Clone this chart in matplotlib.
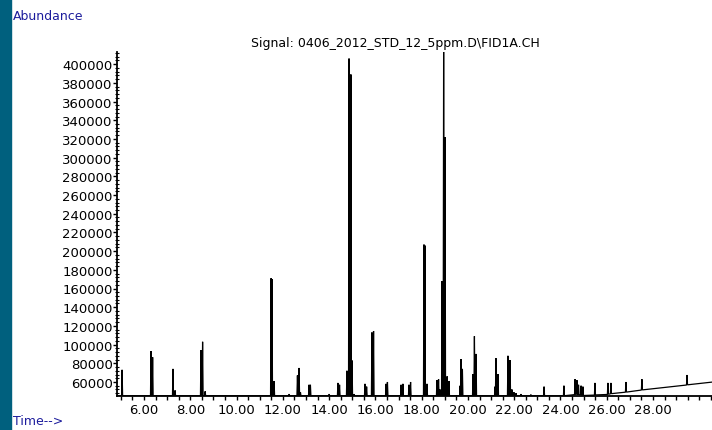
import numpy as np
import matplotlib
matplotlib.use("Agg")
import matplotlib.pyplot as plt
from matplotlib.patches import Rectangle
from matplotlib.ticker import FixedLocator, MultipleLocator, FuncFormatter

# FID trace: retention time (min) and apex abundance of each peak
peak_times = [5.05, 6.30, 6.37, 7.25, 7.34, 8.46, 8.53, 8.64,
              11.49, 11.53, 11.62, 12.27, 12.63, 12.70, 12.76,
              13.13, 13.19, 14.00, 14.38, 14.45, 14.77, 14.86, 14.94,
              14.99, 15.08, 15.55, 15.62, 15.85, 15.92, 16.46, 16.52,
              17.11, 17.19, 17.45, 17.52, 18.10, 18.14, 18.23,
              18.66, 18.73, 18.79, 18.86, 18.88, 18.95, 19.01, 19.10,
              19.18, 19.66, 19.70, 19.76, 20.22, 20.28, 20.35,
              21.17, 21.21, 21.30, 21.73, 21.82, 21.90, 21.99, 22.08,
              22.29, 22.72, 23.29, 24.15, 24.63, 24.71, 24.78, 24.89,
              24.97, 25.49, 26.05, 26.18, 26.83, 27.52, 29.47]
peak_heights = [73000, 93000, 86500, 74000, 51000, 94000, 103000, 50000,
                171000, 170000, 61000, 47000, 67000, 75000, 49000,
                57000, 57000, 47000, 59000, 57000, 72000, 406000, 389000,
                83000, 47000, 58000, 55000, 113000, 114500, 58000, 60000,
                57000, 58000, 57000, 60000, 207000, 206000, 58000,
                62000, 63000, 52000, 49000, 168000, 425000, 322000, 66000,
                61000, 56000, 84500, 74000, 68500, 109000, 90000,
                55000, 85500, 68500, 88000, 83500, 52000, 49000, 48000,
                47000, 46500, 55000, 56000, 63000, 62000, 57000, 56000,
                55000, 59000, 59000, 59000, 60000, 63000, 67500]

# baseline drift
base_times = [4.8, 24.4, 24.7, 25.0, 25.3, 25.6, 26.0, 26.3, 27.0,
              27.8, 28.5, 29.3, 30.0, 30.6]
base_values = [45300, 45300, 47000, 45500, 45300, 46500, 46500, 48000,
               49500, 52500, 53500, 56000, 59500, 60000]

title = "Signal: 0406_2012_STD_12_5ppm.D\\FID1A.CH"
xtick_values = [6, 8, 10, 12, 14, 16, 18, 20, 22, 24, 26, 28]

# build the polyline: baseline, then up to each apex and back down
half_width = 0.022
t_pts = [base_times[0]]
for t in peak_times:
    t_pts += [t - half_width, t, t + half_width]
t_pts.append(base_times[-1])
t_pts = np.array(t_pts)
v_pts = np.interp(t_pts, base_times, base_values)
v_pts[2::3][:len(peak_heights)] = peak_heights

fig = plt.figure(figsize=(7.12, 4.31), dpi=100)
fig.patches.append(Rectangle((0, 0), 11 / 712, 1, transform=fig.transFigure,
                             color="#00607e", zorder=0))

ax = fig.add_axes([117 / 712, 34 / 431, 595 / 712, 344 / 431])
ax.plot(t_pts, v_pts, color="black", lw=0.9, solid_joinstyle="miter")
ax.set_xlim(4.83, 30.55)
ax.set_ylim(45000, 413000)

for side in ("top", "right"):
    ax.spines[side].set_visible(False)
for side in ("left", "bottom"):
    ax.spines[side].set_linewidth(1.3)

ax.xaxis.set_major_locator(FixedLocator(xtick_values))
ax.xaxis.set_minor_locator(MultipleLocator(0.5))
ax.xaxis.set_major_formatter(FuncFormatter(lambda v, p: f"{v:.2f}"))
ax.yaxis.set_major_locator(FixedLocator(range(60000, 400001, 20000)))
ax.yaxis.set_minor_locator(MultipleLocator(4000))
ax.yaxis.set_major_formatter(FuncFormatter(lambda v, p: f"{int(v)}"))

ax.tick_params(axis="x", which="both", direction="out", length=3,
               width=1, pad=2, labelsize=9.5)
ax.tick_params(axis="y", which="major", direction="out", length=3,
               width=1, pad=0, labelsize=9.5)
ax.tick_params(axis="y", which="minor", direction="inout", length=3,
               width=0.8)

fig.text(395 / 712, 1 - 44 / 431, title, ha="center", va="center",
         fontsize=9)
fig.text(13 / 712, 1 - 17 / 431, "Abundance", ha="left", va="center",
         fontsize=9, color="#1c1c9c")
fig.text(13 / 712, 1 - 422 / 431, "Time-->", ha="left", va="center",
         fontsize=9, color="#1c1c9c")

fig.savefig("out.png", dpi=100)
